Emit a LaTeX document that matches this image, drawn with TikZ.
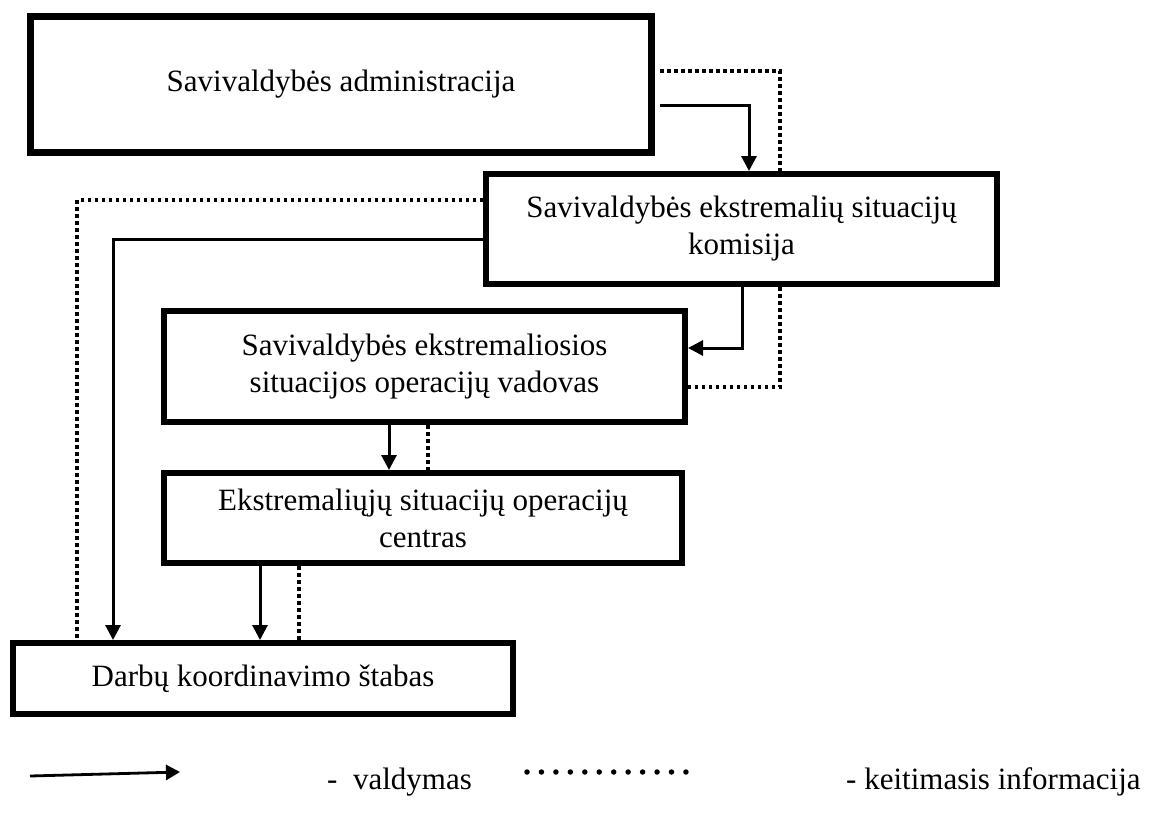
\documentclass[tikz,border=0pt]{standalone}
\usepackage{fontspec}
\setmainfont{Liberation Serif}
\usetikzlibrary{arrows.meta}
\pgfdeclarelayer{paper}
\pgfdeclarelayer{bg}
\pgfsetlayers{paper,bg,main}
\begin{document}
\begin{tikzpicture}[x=1pt,y=-1pt,
  box/.style={draw, line width=6pt, fill=white, inner sep=0pt, align=center,
    font=\fontsize{31}{37}\selectfont},
  ctrl/.style={line width=3pt, -{Triangle[width=15pt,length=15pt]}},
  info/.style={line width=3.5pt, dash pattern=on 3.5pt off 3.5pt},
  lbl/.style={font=\fontsize{31}{37}\selectfont, inner sep=0pt, anchor=base west}]
\useasboundingbox (0,0) rectangle (1151,814);
\begin{pgfonlayer}{paper}
\fill[white] (0,0) rectangle (1151,814);
\end{pgfonlayer}

\node[box, line width=7pt, minimum width=621pt, minimum height=136pt] (A) at (341,84.5) {Savivaldybės administracija};
\node[box, minimum width=511pt, minimum height=110pt] (B) at (741.5,229) {Savivaldybės ekstremalių situacijų\\komisija};
\node[box, minimum width=521pt, minimum height=111pt] (C) at (424.5,366.5) {Savivaldybės ekstremaliosios\\situacijos operacijų vadovas};
\node[box, minimum width=518pt, minimum height=90pt] (D) at (423,518) {Ekstremaliųjų situacijų operacijų\\centras};
\node[box, minimum width=500pt, minimum height=71pt] (E) at (263,678.5) {Darbų koordinavimo štabas};

\coordinate (Ae) at ([xshift=5pt]A.east);

\begin{pgfonlayer}{bg}
% information exchange (dotted)
\draw[info] (Ae |- 0,71) -| (780,387) -- (C.east |- 0,387);
\draw[info] (B.west |- 0,200) -| (E.north -| 77,0);
\draw[info] (C.south -| 428,0) -- (D.north -| 428,0);
\draw[info] (D.south -| 299,0) -- (E.north -| 299,0);
% control (solid arrows)
\draw[ctrl] (Ae |- 0,105) -| (B.north -| 749,0);
\draw[ctrl] (B.west |- 0,239) -| (E.north -| 113,0);
\draw[ctrl] (B.south -| 742,0) |- (C.east |- 0,348);
\draw[ctrl] (C.south -| 389,0) -- (D.north -| 389,0);
\draw[ctrl] (D.south -| 260,0) -- (E.north -| 260,0);
\end{pgfonlayer}

% legend
\coordinate (L1) at (30,776);
\coordinate (L2) at (180,772);
\draw[line width=2.8pt, -{Triangle[width=15pt,length=14pt]}] (L1) -- (L2);
\node[lbl] (V) at (327,789) {-\ \ valdymas};
\coordinate (P1) at (527,772);
\coordinate (P2) at (686,772);
\draw[line width=5.5pt, line cap=round, dash pattern=on 0pt off 14.45pt] (P1) -- (P2);
\node[lbl] (K) at (846,789) {- keitimasis informacija};
\end{tikzpicture}
\end{document}
